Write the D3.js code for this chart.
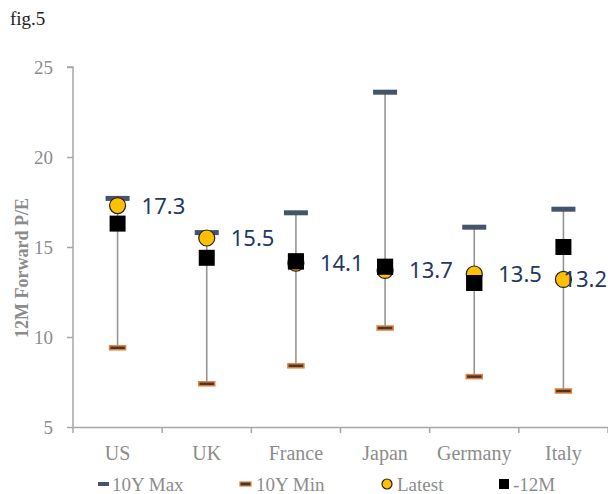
<!DOCTYPE html>
<head>
<script src="https://d3js.org/d3.v7.min.js"></script>
<style>
    body { margin: 0; background: #fff; }
    .serif { font-family: "Liberation Serif", "DejaVu Serif", serif; }
</style>
</head>
<svg width="608" height="494"></svg>
<script>
// chart values
var countries = ["US", "UK", "France", "Japan", "Germany", "Italy"];
var maxPE    = [17.7, 15.8, 16.9, 23.6, 16.1, 17.1];
var minPE    = [9.4, 7.4, 8.4, 10.5, 7.8, 7.0];
var latestPE = [17.3, 15.5, 14.1, 13.7, 13.5, 13.2];
var prevPE   = [16.3, 14.4, 14.2, 13.9, 13.0, 15.0];
var yTicks   = [5, 10, 15, 20, 25];

var svg = d3.select("svg");
var pLeft = 73, pRight = 608, pTop = 67, pBottom = 427;
var axisColor = "#a6a6a6", textGray = "#8c8c8c";

var x = d3.scaleBand().domain(countries).range([pLeft, pRight]);
var y = d3.scaleLinear().domain([5, 25]).range([pBottom, pTop]);

svg.append("text").attr("class", "serif")
    .attr("x", 10).attr("y", 25)
    .attr("font-size", 19).attr("fill", "#222")
    .text("fig.5");

// y axis
var yAxis = svg.append("g")
    .attr("transform", "translate(" + pLeft + ",0)")
    .call(d3.axisLeft(y).tickValues(yTicks).tickSize(6).tickPadding(14));
yAxis.select(".domain").attr("stroke", axisColor).attr("stroke-width", 1.5)
    .attr("d", "M-6," + pTop + "H0V" + pBottom);
yAxis.selectAll(".tick line").attr("stroke", axisColor).attr("stroke-width", 1.5);
yAxis.selectAll(".tick text").attr("class", "serif")
    .attr("font-size", 19).attr("fill", textGray);

// x axis
var xAxis = svg.append("g")
    .attr("transform", "translate(0," + pBottom + ")")
    .call(d3.axisBottom(x).tickSize(0).tickPadding(19));
xAxis.select(".domain").attr("stroke", axisColor).attr("stroke-width", 1.5);
xAxis.selectAll(".tick text").attr("class", "serif")
    .attr("font-size", 20).attr("fill", textGray);
svg.append("g").selectAll("line")
    .data(countries.concat(["end"]))
    .join("line")
    .attr("x1", function(d, i) { return pLeft + i * x.bandwidth(); })
    .attr("x2", function(d, i) { return pLeft + i * x.bandwidth(); })
    .attr("y1", pBottom).attr("y2", pBottom + 6)
    .attr("stroke", axisColor).attr("stroke-width", 1.5);

svg.append("text").attr("class", "serif")
    .attr("transform", "translate(28,268) rotate(-90)")
    .attr("text-anchor", "middle")
    .attr("font-size", 18).attr("font-weight", "bold").attr("fill", textGray)
    .text("12M Forward P/E");

var cx = function(i) { return x(countries[i]) + x.bandwidth() / 2; };

var rows = countries.map(function(c, i) {
    return { i: i, max: maxPE[i], min: minPE[i], latest: latestPE[i], prev: prevPE[i] };
});

var g = svg.append("g");

// range lines
g.selectAll(".range").data(rows).join("line")
    .attr("x1", function(d) { return cx(d.i); })
    .attr("x2", function(d) { return cx(d.i); })
    .attr("y1", function(d) { return y(d.max); })
    .attr("y2", function(d) { return y(d.min); })
    .attr("stroke", "#959595").attr("stroke-width", 1.6);

// max markers
g.selectAll(".max").data(rows).join("rect")
    .attr("x", function(d) { return cx(d.i) - 12; })
    .attr("y", function(d) { return y(d.max) - 2.5; })
    .attr("width", 24).attr("height", 5)
    .attr("fill", "#44546a");

// min markers
g.selectAll(".min").data(rows).join("rect")
    .attr("x", function(d) { return cx(d.i) - 8; })
    .attr("y", function(d) { return y(d.min) - 2; })
    .attr("width", 16).attr("height", 4)
    .attr("fill", "#3a3a3a").attr("stroke", "#ed7d31").attr("stroke-width", 1.5);

// -12M squares
g.selectAll(".prev").data(rows).join("rect")
    .attr("x", function(d) { return cx(d.i) - 8; })
    .attr("y", function(d) { return y(d.prev) - 8; })
    .attr("width", 16).attr("height", 16)
    .attr("fill", "#000");

// latest circles
g.selectAll(".latest").data(rows).join("circle")
    .attr("cx", function(d) { return cx(d.i); })
    .attr("cy", function(d) { return y(d.latest); })
    .attr("r", 8)
    .attr("fill", "#ffc000").attr("stroke", "#222").attr("stroke-width", 1.2);

// -12M square drawn on top where it overlaps the circle
g.selectAll(".prev2").data(rows.filter(function(d) { return Math.abs(d.prev - d.latest) < 0.7; })).join("rect")
    .attr("x", function(d) { return cx(d.i) - 8; })
    .attr("y", function(d) { return y(d.prev) - 8; })
    .attr("width", 16).attr("height", 16)
    .attr("fill", "#000");

// value labels, pulled back inside the chart if they would run off the edge
g.selectAll(".lbl").data(rows).join("text")
    .attr("y", function(d) { return y(d.latest); })
    .attr("dy", "0.36em")
    .attr("font-family", "'Noto Sans', 'Open Sans', sans-serif")
    .attr("font-size", 22).attr("fill", "#1f3864")
    .text(function(d) { return d.latest.toFixed(1); })
    .attr("x", function(d) {
        var w = this.getComputedTextLength();
        return Math.min(cx(d.i) + 24, pRight - w - 1);
    });

// legend
var leg = svg.append("g").attr("class", "serif");
var ly = 484;
leg.append("rect").attr("x", 98).attr("y", ly - 2).attr("width", 11).attr("height", 4).attr("fill", "#44546a");
leg.append("text").attr("x", 112).attr("y", ly).attr("dy", "0.35em").text("10Y Max");
leg.append("rect").attr("x", 240).attr("y", ly - 2).attr("width", 11).attr("height", 4)
    .attr("fill", "#3a3a3a").attr("stroke", "#ed7d31").attr("stroke-width", 1.2);
leg.append("text").attr("x", 256).attr("y", ly).attr("dy", "0.35em").text("10Y Min");
leg.append("circle").attr("cx", 387).attr("cy", ly).attr("r", 5)
    .attr("fill", "#ffc000").attr("stroke", "#222").attr("stroke-width", 1.2);
leg.append("text").attr("x", 397).attr("y", ly).attr("dy", "0.35em").text("Latest");
leg.append("rect").attr("x", 499).attr("y", ly - 5).attr("width", 10).attr("height", 10).attr("fill", "#000");
leg.append("text").attr("x", 513).attr("y", ly).attr("dy", "0.35em").text("-12M");
leg.selectAll("text").attr("font-size", 19).attr("fill", textGray);
</script>
